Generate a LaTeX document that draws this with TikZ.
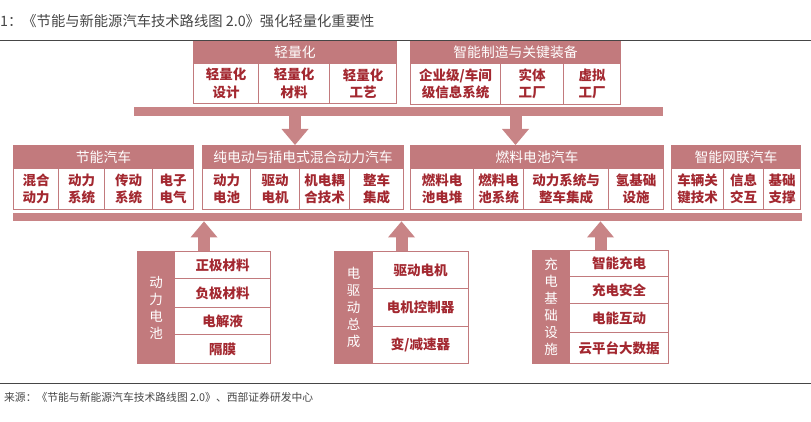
\documentclass[tikz,border=0pt]{standalone}
\usepackage{fontspec}
\newfontfamily\cjk{Noto Sans CJK SC}
\usetikzlibrary{arrows.meta}
\definecolor{rose}{RGB}{194,122,125}
\definecolor{barc}{RGB}{200,132,134}
\definecolor{celltxt}{RGB}{163,40,48}
\definecolor{ttl}{RGB}{70,70,70}
\begin{document}
\begin{tikzpicture}[x=1pt,y=-1pt,
  hdr/.style={draw=rose, fill=rose, line width=1pt, text=white, font=\cjk\fontsize{13.8}{16}\selectfont, inner sep=0pt, anchor=north west},
  cell/.style={draw=rose, fill=white, line width=1pt, text=celltxt, font=\cjk\bfseries\fontsize{13.5}{17.5}\selectfont, align=center, inner sep=0pt, anchor=north west},
  vlab/.style={draw=rose, fill=rose, line width=1pt, text=white, font=\cjk\fontsize{13.5}{17}\selectfont, align=center, inner sep=0pt, anchor=north west},
  frame/.style={draw=rose, line width=1pt, inner sep=0pt, anchor=north west},
  hbar/.style={fill=barc, draw=none, inner sep=0pt, anchor=north west},
  blockarrow/.style={draw=barc, line width=12pt, -{Triangle[width=27pt,length=16pt,line width=0pt]}},
  rule/.style={draw=ttl, line width=0.8pt},
]
\useasboundingbox (0,0) rectangle (811,422);

% title and source
\node[anchor=west, text=ttl, font=\cjk\fontsize{14.3}{16}\selectfont, inner sep=0pt] (title) at (0,21) {1：《节能与新能源汽车技术路线图 2.0》强化轻量化重要性};
\coordinate (r1a) at (0,40); \coordinate (r1b) at (811,40);
\draw[rule] (r1a) -- (r1b);
\coordinate (r2a) at (0,383); \coordinate (r2b) at (811,383);
\draw[rule] (r2a) -- (r2b);
\node[anchor=west, text=ttl, font=\cjk\fontsize{10.8}{12}\selectfont, inner sep=0pt] (src) at (4,397) {来源：《节能与新能源汽车技术路线图 2.0》、西部证券研发中心};

% top box 1
\node[hdr, minimum width=203pt, minimum height=22pt] (h1) at (193,41) {轻量化};
\node[cell, minimum width=65pt, minimum height=40pt] (t11) at (193,63) {轻量化\\设计};
\node[cell, minimum width=71pt, minimum height=40pt] (t12) at (258,63) {轻量化\\材料};
\node[cell, minimum width=67pt, minimum height=40pt] (t13) at (329,63) {轻量化\\工艺};

% top box 2
\node[hdr, minimum width=210pt, minimum height=22pt] (h2) at (410,41) {智能制造与关键装备};
\node[cell, minimum width=90pt, minimum height=41pt] (t21) at (410,63) {企业级/车间\\级信息系统};
\node[cell, minimum width=63pt, minimum height=41pt] (t22) at (500,63) {实体\\工厂};
\node[cell, minimum width=57pt, minimum height=41pt] (t23) at (563,63) {虚拟\\工厂};

% bar 1
\node[hbar, minimum width=529pt, minimum height=9pt] (bar1) at (134,107) {};

% middle row
\node[hdr, minimum width=180pt, minimum height=23pt] (m1) at (13,145) {节能汽车};
\node[cell, minimum width=45pt, minimum height=41pt] (m11) at (13,168) {混合\\动力};
\node[cell, minimum width=46pt, minimum height=41pt] (m12) at (58,168) {动力\\系统};
\node[cell, minimum width=48pt, minimum height=41pt] (m13) at (104,168) {传动\\系统};
\node[cell, minimum width=41pt, minimum height=41pt] (m14) at (152,168) {电子\\电气};

\node[hdr, minimum width=201pt, minimum height=23pt] (m2) at (202,145) {纯电动与插电式混合动力汽车};
\node[cell, minimum width=48pt, minimum height=41pt] (m21) at (202,168) {动力\\电池};
\node[cell, minimum width=49pt, minimum height=41pt] (m22) at (250,168) {驱动\\电机};
\node[cell, minimum width=50pt, minimum height=41pt] (m23) at (299,168) {机电耦\\合技术};
\node[cell, minimum width=54pt, minimum height=41pt] (m24) at (349,168) {整车\\集成};

\node[hdr, minimum width=253pt, minimum height=23pt] (m3) at (410,145) {燃料电池汽车};
\node[cell, minimum width=63pt, minimum height=41pt] (m31) at (410,168) {燃料电\\池电堆};
\node[cell, minimum width=50pt, minimum height=41pt] (m32) at (473,168) {燃料电\\池系统};
\node[cell, minimum width=85pt, minimum height=41pt] (m33) at (523,168) {动力系统与\\整车集成};
\node[cell, minimum width=55pt, minimum height=41pt] (m34) at (608,168) {氢基础\\设施};

\node[hdr, minimum width=129pt, minimum height=23pt] (m4) at (671,145) {智能网联汽车};
\node[cell, minimum width=52pt, minimum height=41pt] (m41) at (671,168) {车辆关\\键技术};
\node[cell, minimum width=40pt, minimum height=41pt] (m42) at (723,168) {信息\\交互};
\node[cell, minimum width=37pt, minimum height=41pt] (m43) at (763,168) {基础\\支撑};

% bar 2
\node[hbar, minimum width=789pt, minimum height=8pt] (bar2) at (13,213) {};

% lower box 1
\node[frame, minimum width=133pt, minimum height=112pt] (L1) at (137,251) {};
\node[vlab, minimum width=37pt, minimum height=112pt] (L1l) at (137,251) {动\\力\\电\\池};
\node[cell, minimum width=96pt, minimum height=27pt] (L11) at (174,251) {正极材料};
\node[cell, minimum width=96pt, minimum height=29pt] (L12) at (174,278) {负极材料};
\node[cell, minimum width=96pt, minimum height=27pt] (L13) at (174,307) {电解液};
\node[cell, minimum width=96pt, minimum height=29pt] (L14) at (174,334) {隔膜};

% lower box 2
\node[frame, minimum width=134pt, minimum height=112pt] (L2) at (334,251) {};
\node[vlab, minimum width=38pt, minimum height=112pt] (L2l) at (334,251) {电\\驱\\动\\总\\成};
\node[cell, minimum width=96pt, minimum height=37pt] (L21) at (372,251) {驱动电机};
\node[cell, minimum width=96pt, minimum height=38pt] (L22) at (372,288) {电机控制器};
\node[cell, minimum width=96pt, minimum height=37pt] (L23) at (372,326) {变/减速器};

% lower box 3
\node[frame, minimum width=136pt, minimum height=113pt] (L3) at (532,250) {};
\node[vlab, minimum width=37pt, minimum height=113pt] (L3l) at (532,250) {充\\电\\基\\础\\设\\施};
\node[cell, minimum width=99pt, minimum height=26pt] (L31) at (569,250) {智能充电};
\node[cell, minimum width=99pt, minimum height=27pt] (L32) at (569,276) {充电安全};
\node[cell, minimum width=99pt, minimum height=29pt] (L33) at (569,303) {电能互动};
\node[cell, minimum width=99pt, minimum height=31pt] (L34) at (569,332) {云平台大数据};

% arrows
\draw[blockarrow] (h1.center |- bar1.south) -- (h1.center |- m2.north);
\draw[blockarrow] (h2.center |- bar1.south) -- (h2.center |- m3.north);
\draw[blockarrow] (L1.north) -- (L1.north |- bar2.south);
\draw[blockarrow] (L2.north) -- (L2.north |- bar2.south);
\draw[blockarrow] (L3.north) -- (L3.north |- bar2.south);
\end{tikzpicture}
\end{document}
